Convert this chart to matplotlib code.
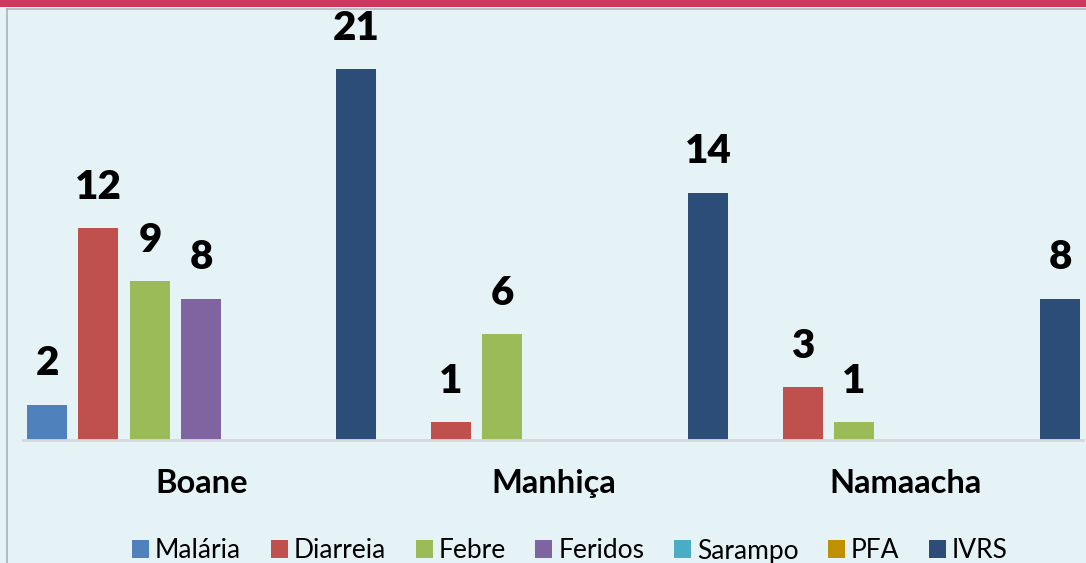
import matplotlib.pyplot as plt
from matplotlib.patches import Rectangle
from matplotlib.lines import Line2D
import numpy as np

plt.rcParams['font.family'] = ['Lato', 'DejaVu Sans']

# Data
districts = ["Boane", "Manhiça", "Namaacha"]
series_names = ["Malária", "Diarreia", "Febre", "Feridos", "Sarampo", "PFA", "IVRS"]
malaria = [2, 0, 0]
diarreia = [12, 1, 3]
febre = [9, 6, 1]
feridos = [8, 0, 0]
sarampo = [0, 0, 0]
pfa = [0, 0, 0]
ivrs = [21, 14, 8]
all_series = [malaria, diarreia, febre, feridos, sarampo, pfa, ivrs]

colors = ['#4F81BD', '#C0504D', '#9BBB59', '#8064A2', '#4BACC6', '#BF9000', '#2C4D77']
bg = '#E5F2F6'

W, H = 1086, 563
fig = plt.figure(figsize=(W / 100, H / 100), dpi=100, facecolor=bg)

# top red band and frame lines
fig.patches.append(Rectangle((0, 1 - 7 / H), 1, 7 / H, transform=fig.transFigure,
                             facecolor='#CD3860', edgecolor='none', zorder=0))
fig.add_artist(Line2D([7 / W, 1], [1 - 9 / H, 1 - 9 / H], color='#B8C2C6', lw=1.5))
fig.add_artist(Line2D([7 / W, 7 / W], [0, 1 - 9 / H], color='#A9B2B6', lw=1.2))

ax_left, ax_right = 23 / W, 1083 / W
ax_bottom, ax_top = 1 - 440 / H, 1 - 9.5 / H
ax = fig.add_axes([ax_left, ax_bottom, ax_right - ax_left, ax_top - ax_bottom])
ax.set_facecolor(bg)

x = np.arange(len(districts))
step = 51.5 / 352
width = 40 / 352
handles = []
for j, (name, vals) in enumerate(zip(series_names, all_series)):
    bars = ax.bar(x + (j - 3) * step, vals, width=width, color=colors[j], label=name,
                  edgecolor='none', zorder=2)
    handles.append(bars)
    labels = ['' if v == 0 else str(v) for v in vals]
    ax.bar_label(bars, labels=labels, padding=16, fontsize=29, fontweight='heavy')

ax.set_xlim(-0.507, 2.504)
ax.set_ylim(0, 430.5 / 17.67)
for s in ['top', 'right', 'left']:
    ax.spines[s].set_visible(False)
ax.spines['bottom'].set_color('#D6D9DA')
ax.spines['bottom'].set_linewidth(2)
ax.set_yticks([])
ax.set_xticks(x)
ax.set_xticklabels(districts, fontsize=23.5, fontweight='bold')
ax.tick_params(axis='x', length=0, pad=21)

fig.legend(handles=handles, labels=series_names, loc='center', ncol=7,
           bbox_to_anchor=(570 / W, 1 - 551 / H), frameon=False, fontsize=19,
           handlelength=0.65, handleheight=0.65, handletextpad=0.22, columnspacing=1.12)

fig.savefig('out.png', dpi=100, facecolor=bg)
